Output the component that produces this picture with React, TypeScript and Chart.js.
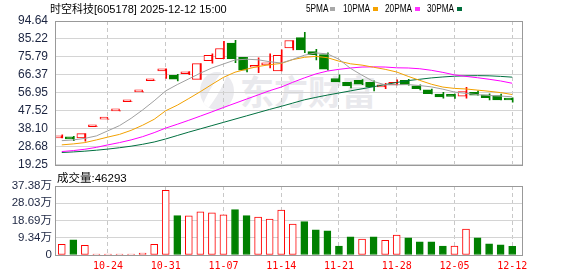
import React, { useEffect, useRef } from "react";
import { Chart, registerables } from "chart.js";

Chart.register(...registerables);

// ---------- data ----------
const dates = [
  "10-20", "10-21", "10-22", "10-23", "10-24",
  "10-27", "10-28", "10-29", "10-30", "10-31",
  "11-03", "11-04", "11-05", "11-06", "11-07",
  "11-10", "11-11", "11-12", "11-13", "11-14",
  "11-17", "11-18", "11-19", "11-20", "11-21",
  "11-24", "11-25", "11-26", "11-27", "11-28",
  "12-01", "12-02", "12-03", "12-04", "12-05",
  "12-08", "12-09", "12-10", "12-11", "12-12",
];

const openP = [
  33.4, 33.8, 33.3, 39.2, 43.2, 47.5, 52.3, 57.5, 63.3, 68.5,
  66.2, 67.0, 64.0, 73.9, 74.9, 83.0, 75.6, 70.4, 71.6, 68.5,
  80.5, 85.9, 78.6, 77.0, 64.5, 62.5, 63.6, 62.5, 60.1, 61.1,
  63.6, 60.6, 58.5, 56.3, 55.4, 55.2, 57.3, 55.9, 55.6, 53.5,
];
const highP = [
  35.0, 34.2, 35.6, 39.2, 43.2, 47.5, 52.3, 57.5, 63.3, 69.6,
  66.7, 68.1, 72.3, 77.4, 84.0, 84.5, 75.6, 75.3, 77.4, 79.5,
  84.4, 88.7, 79.8, 77.9, 66.4, 62.6, 63.9, 63.3, 61.9, 63.8,
  64.1, 61.2, 58.9, 57.3, 56.3, 59.9, 58.0, 56.5, 56.3, 54.4,
];
const lowP = [
  33.3, 31.9, 31.6, 39.2, 43.2, 47.5, 52.3, 57.5, 63.3, 64.6,
  63.2, 66.5, 64.0, 72.5, 74.9, 72.8, 68.0, 67.6, 70.1, 68.5,
  79.5, 78.1, 74.2, 68.8, 62.7, 59.6, 61.2, 58.0, 59.1, 61.1,
  61.0, 58.5, 56.4, 54.2, 54.0, 54.2, 55.7, 53.3, 53.3, 52.1,
];
const closeP = [
  34.2, 32.8, 35.6, 39.2, 43.2, 47.5, 52.3, 57.5, 63.3, 69.6,
  64.1, 67.2, 72.3, 76.7, 80.2, 74.9, 68.8, 70.7, 72.1, 76.7,
  84.4, 79.5, 77.0, 69.4, 62.7, 60.6, 61.5, 60.1, 61.1, 62.5,
  61.3, 59.1, 56.5, 54.9, 55.1, 57.7, 55.8, 54.4, 53.3, 53.2,
];

const ma5 = [
  31.9, 32.3, 33.1, 34.4, 37.1, 39.8, 43.6, 48.0, 52.8, 58.0,
  61.3, 64.3, 67.3, 70.0, 72.1, 74.2, 74.6, 74.3, 73.3, 72.6,
  74.5, 76.7, 77.9, 77.4, 74.6, 69.8, 66.2, 62.9, 61.2, 61.2,
  61.3, 60.8, 60.1, 58.9, 57.4, 56.7, 56.0, 55.6, 55.3, 54.9,
];
const ma10 = [
  29.7, 30.2, 30.9, 32.3, 33.8, 35.2, 37.3, 40.0, 43.1, 47.6,
  50.5, 54.0, 57.6, 61.4, 65.1, 67.8, 69.4, 70.8, 71.7, 72.4,
  74.4, 75.6, 76.1, 75.4, 73.6, 72.2, 71.5, 70.4, 69.3, 67.9,
  65.6, 63.5, 61.5, 60.0, 59.3, 59.0, 58.4, 57.8, 57.1, 56.1,
];
const ma20 = [
  26.2, 26.7, 27.4, 28.4, 29.7, 30.9, 32.3, 34.0, 36.1, 38.5,
  40.5, 42.6, 44.8, 47.0, 49.3, 51.5, 53.7, 55.9, 58.1, 60.0,
  62.5, 64.8, 66.9, 68.4, 69.3, 70.0, 70.5, 70.6, 70.5, 70.1,
  70.0, 69.6, 68.8, 67.7, 66.4, 65.6, 64.9, 64.1, 63.2, 62.0,
];
const ma30 = [
  25.7, 26.0, 26.4, 26.9, 27.5, 28.2, 29.0, 30.0, 31.2, 32.8,
  34.6, 36.4, 38.1, 39.8, 41.5, 43.2, 44.9, 46.6, 48.3, 49.9,
  51.6, 53.3, 54.6, 55.8, 56.9, 58.0, 59.1, 60.2, 61.3, 62.4,
  63.4, 64.1, 64.8, 65.3, 65.7, 65.9, 66.0, 65.9, 65.6, 65.2,
];

// volume in 万 (10k shares)
const volume = [
  5.8, 8.2, 5.3, 0.4, 0.4, 0.4, 0.4, 1.0, 5.8, 35.0,
  21.3, 21.2, 23.4, 22.8, 21.7, 24.6, 21.3, 20.6, 19.5, 24.4,
  16.8, 18.1, 13.7, 13.1, 4.9, 9.85, 8.6, 9.85, 8.0, 10.8,
  9.3, 7.1, 7.1, 4.9, 4.9, 14.0, 9.3, 6.0, 5.5, 4.63,
];

const priceTicks = [19.25, 28.68, 38.1, 47.52, 56.95, 66.37, 75.79, 85.22, 94.64];
const volumeTicks = [0, 9.34, 18.69, 28.03, 37.38];
const dateTickIndex = [4, 9, 14, 19, 24, 29, 34, 39];

const stockName = "时空科技";
const stockCode = "[605178]";
const stamp = "2025-12-12 15:00";
const volumeTitle = "成交量:46293";
const legendNames = ["5PMA", "10PMA", "20PMA", "30PMA"];
const watermark = "东方财富";

// ---------- styles ----------
const RED = "#ff0000";
const GREEN = "#008000";
const MA_COLORS = ["#a0a0a0", "#f2a100", "#ff00ff", "#007040"];
const LEGEND_COLORS = ["#a8a8a8", "#f5a200", "#ff33ff", "#006e3c"];
const AXIS_TEXT = "#1b2440";
const SANS = "'Liberation Sans', 'Noto Sans CJK SC', sans-serif";

const boxPlugin = {
  id: "box",
  afterDraw(chart: any) {
    const { ctx, chartArea: a } = chart;
    const l = Math.round(a.left);
    const r = Math.round(a.right);
    const t = Math.round(a.top);
    const b = Math.round(a.bottom);
    ctx.save();
    ctx.strokeStyle = "#999999";
    ctx.lineWidth = 1;
    ctx.setLineDash([]);
    ctx.strokeRect(l - 0.5, t + 0.5, r - l + 1, b - t);
    ctx.restore();
  },
};

export default function App() {
  const priceRef = useRef<HTMLCanvasElement>(null);
  const volRef = useRef<HTMLCanvasElement>(null);

  useEffect(() => {
    const n = closeP.length;
    const idx = closeP.map((_, i) => i);
    const up = idx.map((i) => closeP[i] >= openP[i]);
    const volUp = idx.map((i) => (i === 0 ? closeP[0] >= openP[0] : closeP[i] >= closeP[i - 1]));
    const xMin = -0.5;
    const xMax = n - 0.15;

    const xScaleBase = (showLabels: boolean, height: number) => ({
      type: "linear" as const,
      min: xMin,
      max: xMax,
      offset: false,
      afterBuildTicks: (s: any) => {
        s.ticks = dateTickIndex.map((v) => ({ value: v }));
      },
      afterFit: (s: any) => {
        s.height = height;
      },
      grid: {
        display: true,
        color: "#c8c8c8",
        lineWidth: 1,
        drawTicks: false,
        offset: false,
      },
      border: { display: false, dash: [4, 3] },
      ticks: {
        display: showLabels,
        autoSkip: false,
        maxRotation: 0,
        padding: 5,
        color: RED,
        font: { family: "'DejaVu Sans Mono', monospace", size: 10 },
        callback: (v: any) => dates[Math.round(Number(v))] ?? "",
      },
    });

    const priceChart = new Chart(priceRef.current!, {
      type: "bar",
      data: {
        datasets: [
          ...[ma5, ma10, ma20, ma30].map((arr, k) => ({
            type: "line" as const,
            data: arr.map((v, i) => ({ x: i, y: v })),
            borderColor: MA_COLORS[k],
            borderWidth: 1,
            pointRadius: 0,
            fill: false,
            tension: 0,
            order: 0,
          })),
          {
            type: "bar" as const,
            data: idx.map((i) => ({ x: i, y: [Math.min(openP[i], closeP[i]), Math.max(openP[i], closeP[i])] })),
            backgroundColor: idx.map((i) => (up[i] ? "#ffffff" : GREEN)),
            borderColor: idx.map((i) => (up[i] ? RED : GREEN)),
            borderWidth: 1,
            borderSkipped: false,
            barThickness: 8,
            minBarLength: 2,
            order: 1,
          },
          {
            type: "bar" as const,
            data: idx.map((i) => ({ x: i, y: [lowP[i], highP[i]] })),
            backgroundColor: idx.map((i) => (up[i] ? RED : GREEN)),
            borderWidth: 0,
            barThickness: 1,
            order: 2,
          },
        ] as any,
      },
      options: {
        responsive: false,
        animation: false,
        events: [],
        layout: { padding: { left: 0, right: 56, top: 21, bottom: 15 } },
        plugins: { legend: { display: false }, tooltip: { enabled: false } },
        scales: {
          x: xScaleBase(false, 0) as any,
          y: {
            type: "linear",
            min: priceTicks[0],
            max: priceTicks[priceTicks.length - 1],
            afterBuildTicks: (s: any) => {
              s.ticks = priceTicks.map((v) => ({ value: v }));
            },
            afterFit: (s: any) => {
              s.width = 56;
            },
            grid: { color: "#d4d4d4", lineWidth: 1, drawTicks: false },
            border: { display: false },
            ticks: {
              padding: 8,
              color: AXIS_TEXT,
              font: { family: SANS, size: 12 },
              callback: (v: any) => Number(v).toFixed(2),
            },
          },
        },
      },
      plugins: [boxPlugin],
    });

    const volChart = new Chart(volRef.current!, {
      type: "bar",
      data: {
        datasets: [
          {
            data: idx.map((i) => ({ x: i, y: volume[i] })),
            backgroundColor: idx.map((i) => (volUp[i] ? "#ffffff" : GREEN)),
            borderColor: idx.map((i) => (volUp[i] ? RED : GREEN)),
            borderWidth: 1,
            borderSkipped: false,
            barThickness: 7,
            minBarLength: 1,
          },
        ] as any,
      },
      options: {
        responsive: false,
        animation: false,
        events: [],
        layout: { padding: { left: 0, right: 56, top: 14, bottom: 0 } },
        plugins: { legend: { display: false }, tooltip: { enabled: false } },
        scales: {
          x: xScaleBase(true, 21) as any,
          y: {
            type: "linear",
            min: volumeTicks[0],
            max: volumeTicks[volumeTicks.length - 1],
            afterBuildTicks: (s: any) => {
              s.ticks = volumeTicks.map((v) => ({ value: v }));
            },
            afterFit: (s: any) => {
              s.width = 56;
            },
            grid: { color: "#d4d4d4", lineWidth: 1, drawTicks: false },
            border: { display: false },
            ticks: {
              padding: 4,
              color: AXIS_TEXT,
              font: { family: SANS, size: 11.5 },
              callback: (v: any) => (Number(v) === 0 ? "0" : Number(v).toFixed(2) + "万"),
            },
          },
        },
      },
      plugins: [boxPlugin],
    });

    return () => {
      priceChart.destroy();
      volChart.destroy();
    };
  }, []);

  const legendX = [306, 343, 385, 427];
  const squareX = [330, 373, 415, 457];

  return (
    <div
      style={{
        position: "absolute",
        left: 0,
        top: 0,
        width: 578,
        height: 276,
        background: "#ffffff",
        overflow: "hidden",
        fontFamily: SANS,
      }}
    >
      <div
        style={{
          position: "absolute",
          left: 200,
          top: 72,
          width: 34,
          height: 38,
          borderRadius: "50%",
          background: "#ebebef",
          overflow: "hidden",
        }}
      >
        <div
          style={{
            position: "absolute",
            left: 10,
            top: -6,
            width: 9,
            height: 50,
            background: "#ffffff",
            borderRadius: "50%",
            transform: "rotate(30deg)",
          }}
        />
      </div>
      <div
        style={{
          position: "absolute",
          left: 240,
          top: 72,
          fontSize: 34,
          lineHeight: "38px",
          fontWeight: 700,
          color: "#e9e9ed",
          fontFamily: "'Noto Sans CJK SC', sans-serif",
          whiteSpace: "nowrap",
        }}
      >
        {watermark}
      </div>
      <canvas
        ref={priceRef}
        width={578}
        height={180}
        style={{ position: "absolute", left: 0, top: 0, width: 578, height: 180 }}
      />
      <canvas
        ref={volRef}
        width={578}
        height={104}
        style={{ position: "absolute", left: 0, top: 172, width: 578, height: 104 }}
      />
      <div
        style={{
          position: "absolute",
          left: 50,
          top: 2,
          fontSize: 11,
          lineHeight: "13px",
          color: "#000",
          whiteSpace: "nowrap",
        }}
      >
        <span style={{ fontFamily: "'Noto Sans CJK SC', sans-serif", fontSize: 11 }}>{stockName}</span>
        {stockCode} {stamp}
      </div>
      {legendNames.map((name, k) => (
        <React.Fragment key={name}>
          <div
            style={{
              position: "absolute",
              left: legendX[k],
              top: 2,
              fontSize: 11,
              lineHeight: "13px",
              color: "#000",
              whiteSpace: "nowrap",
              transform: "scaleX(0.75)",
              transformOrigin: "left center",
            }}
          >
            {name}
          </div>
          <div
            style={{
              position: "absolute",
              left: squareX[k],
              top: 7,
              width: 5,
              height: 4,
              background: LEGEND_COLORS[k],
            }}
          />
        </React.Fragment>
      ))}
      <div
        style={{
          position: "absolute",
          left: 57,
          top: 171,
          fontSize: 11.5,
          lineHeight: "14px",
          color: "#000",
          whiteSpace: "nowrap",
        }}
      >
        {volumeTitle}
      </div>
    </div>
  );
}
